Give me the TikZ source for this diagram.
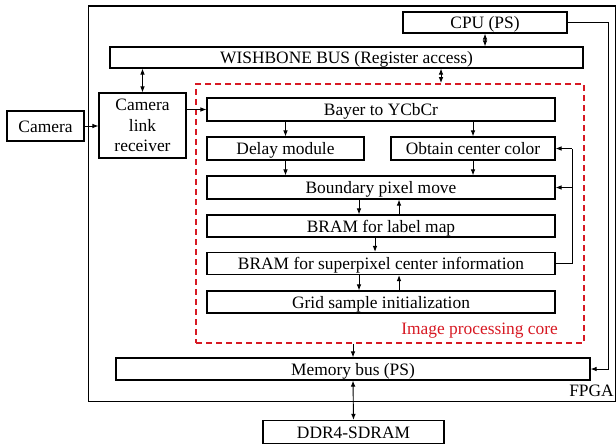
\documentclass[tikz,border=0pt]{standalone}
\usepackage{fontspec}
\setmainfont{Liberation Serif}
\usetikzlibrary{arrows.meta}
\definecolor{corered}{RGB}{215,25,35}
\newcommand{\blkfont}{\fontsize{17.4}{20.5}\selectfont}
\begin{document}
\begin{tikzpicture}[x=1pt,y=-1pt,
  blk/.style={draw, line width=1.2pt, inner sep=0pt, align=center, font=\blkfont,
              text height=12pt, text depth=0pt},
  multiblk/.style={blk, text height=, text depth=0pt},
  frame/.style={draw, line width=1.2pt, inner sep=0pt},
  coreframe/.style={draw=corered, line width=1.8pt, dash pattern=on 6pt off 4pt, inner sep=0pt},
  lbl/.style={inner sep=0pt, font=\blkfont},
  tip/.tip={Latex[length=6pt,width=4.6pt]},
  arr/.style={-tip, line width=0.9pt},
  darr/.style={tip-tip, line width=0.9pt},
  wire/.style={line width=0.9pt}]
\useasboundingbox (0,0) rectangle (616,444);

% containers
\node[frame, minimum width=527pt, minimum height=395.5pt] (fpga) at (352,203.75) {};
\node[coreframe, minimum width=388pt, minimum height=259pt] (core) at (390,213.5) {};

% blocks outside the core
\node[blk, minimum width=164pt, minimum height=21pt] (cpu) at (485,22.5) {CPU (PS)};
\node[blk, minimum width=473pt, minimum height=21pt] (wb) at (346.5,57.5) {WISHBONE BUS (Register access)};
\node[blk, minimum width=77pt, minimum height=30pt] (camera) at (45.5,126) {Camera};
\node[multiblk, minimum width=87pt, minimum height=65pt] (rx) at (142.5,125.5) {Camera\\link\\receiver};
\node[blk, minimum width=474pt, minimum height=22pt] (membus) at (353,369) {Memory bus (PS)};
\node[blk, minimum width=181pt, minimum height=23pt] (ddr) at (353.5,432) {DDR4-SDRAM};

% blocks of the image processing core
\node[blk, minimum width=348pt, minimum height=23pt] (bayer) at (381,109.5) {Bayer to YCbCr};
\node[blk, minimum width=157pt, minimum height=23pt] (delay) at (285.5,148.5) {Delay module};
\node[blk, minimum width=164pt, minimum height=23pt] (obtain) at (473,148.5) {Obtain center color};
\node[blk, minimum width=348pt, minimum height=23pt] (boundary) at (381,187.5) {Boundary pixel move};
\node[blk, minimum width=348pt, minimum height=22pt] (labelmap) at (381,226) {BRAM for label map};
\node[blk, minimum width=348pt, minimum height=22pt] (spc) at (381,263.5) {BRAM for superpixel center information};
\node[blk, minimum width=348pt, minimum height=22pt] (grid) at (381,302) {Grid sample initialization};

% captions
\node[lbl, text=corered, anchor=base east] (corecap) at (558,334) {Image processing core};
\node[lbl, anchor=base east] (fpgacap) at (614,396) {FPGA};

% helper columns for vertical links
\coordinate (xwb) at (441,0);
\coordinate (xdn) at (359,0);
\coordinate (xup) at (399,0);
\coordinate (xmid) at (375,0);
\coordinate (xfb) at (572,0);
\coordinate (xcpu) at (608,0);

% connectors
\draw[arr] (camera.east) -- (camera.east -| rx.west);
\draw[arr] (rx.east |- bayer.west) -- (bayer.west);
\draw[darr] (rx.north) -- (rx.north |- wb.south);
\draw[darr] (cpu.south) -- (cpu.south |- wb.north);
\draw[darr] (wb.south -| xwb) -- (core.north -| xwb);

\draw[arr] (delay.north |- bayer.south) -- (delay.north);
\draw[arr] (obtain.north |- bayer.south) -- (obtain.north);
\draw[arr] (delay.south) -- (delay.south |- boundary.north);
\draw[arr] (obtain.south) -- (obtain.south |- boundary.north);
\draw[arr] (boundary.south -| xdn) -- (labelmap.north -| xdn);
\draw[arr] (labelmap.north -| xup) -- (boundary.south -| xup);
\draw[arr] (labelmap.south -| xmid) -- (spc.north -| xmid);
\draw[arr] (spc.south -| xdn) -- (grid.north -| xdn);
\draw[arr] (grid.north -| xup) -- (spc.south -| xup);

% feedback from the center memory
\draw[wire] (spc.east) -- (spc.east -| xfb) -- (obtain.east -| xfb);
\draw[arr] (obtain.east -| xfb) -- (obtain.east);
\draw[arr] (boundary.east -| xfb) -- (boundary.east);

% CPU to memory bus
\draw[arr] (cpu.east) -- (cpu.east -| xcpu) |- (membus.east);

% core to memory, memory to DDR
\draw[arr] (core.south -| membus.north) -- (membus.north);
\draw[darr] (membus.south) -- (ddr.north);
\end{tikzpicture}
\end{document}
